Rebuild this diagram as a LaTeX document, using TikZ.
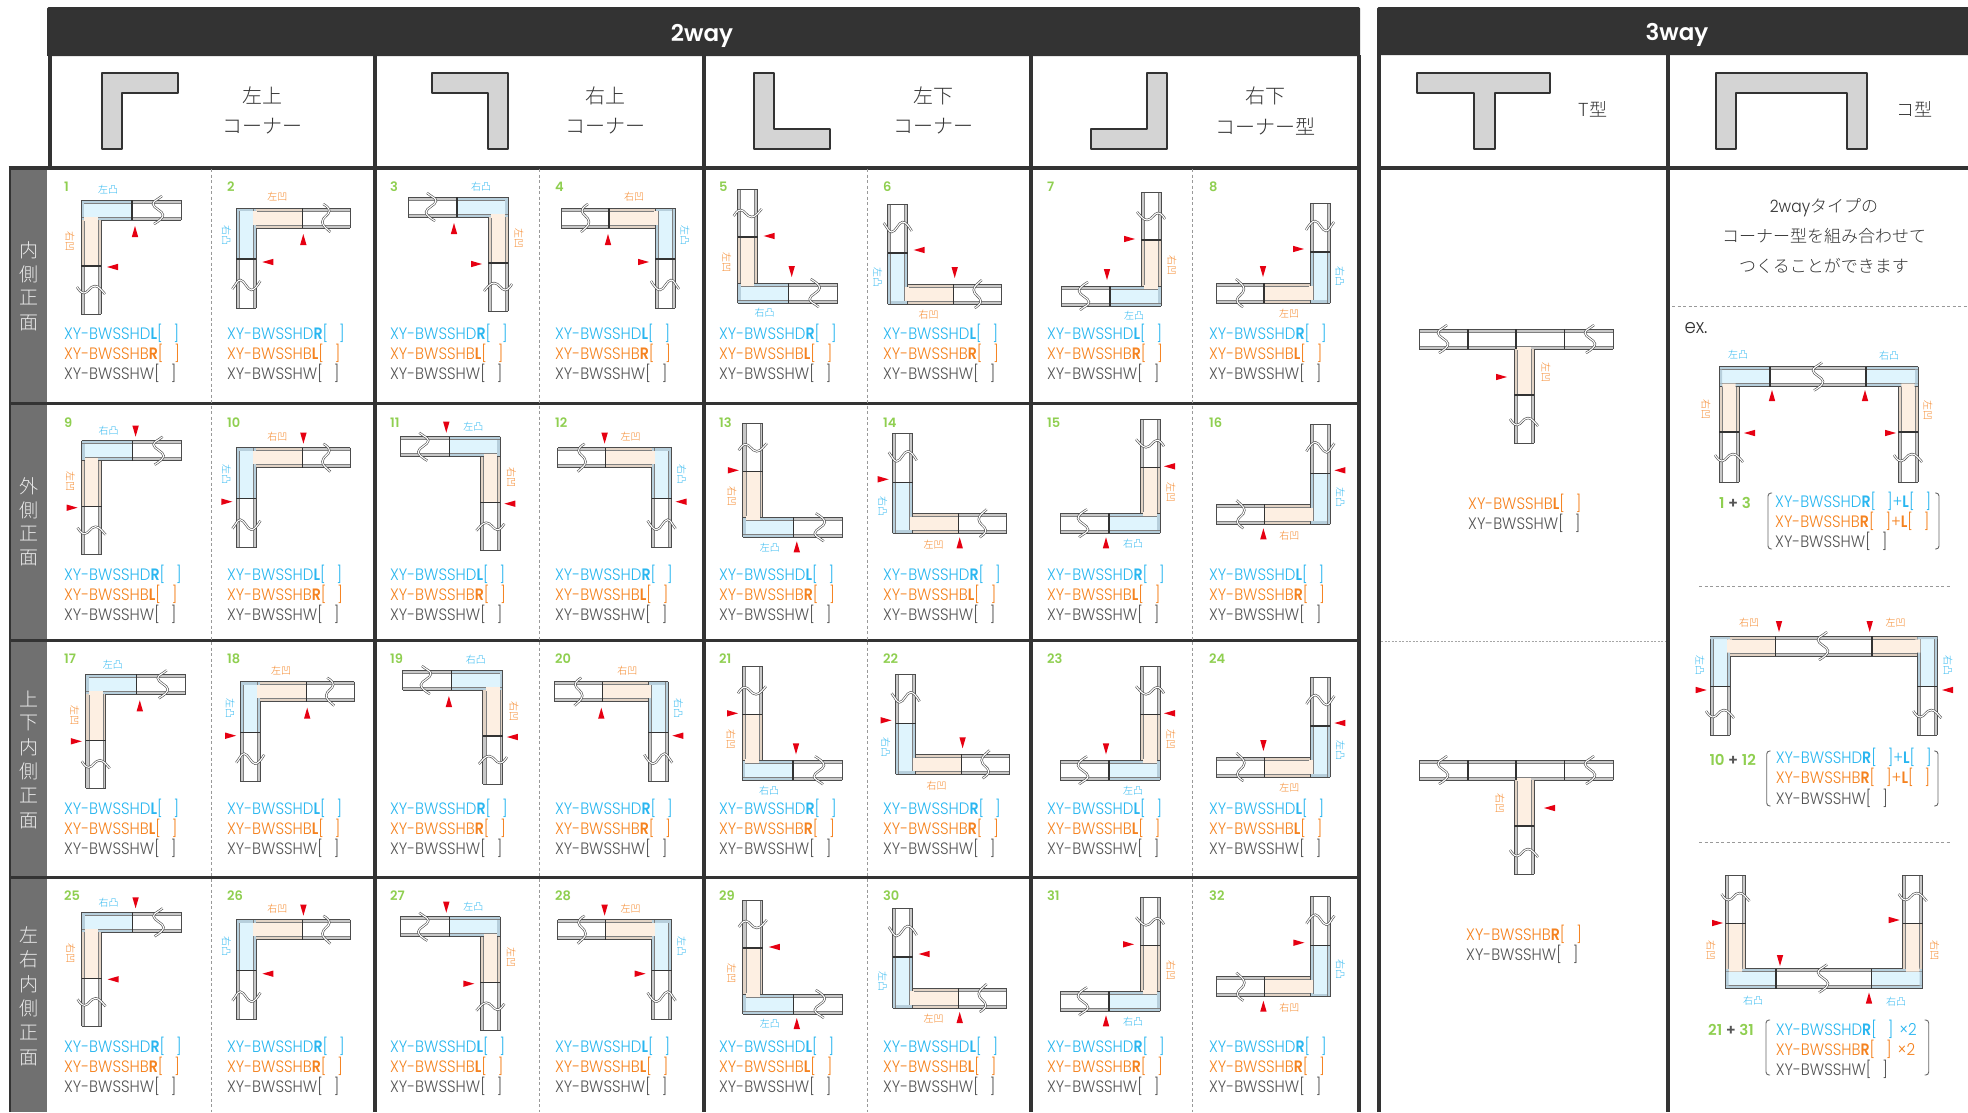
\documentclass[tikz,border=0pt]{standalone}
\usepackage{fontspec}
\newfontfamily\gothic{Poppins Light}[FakeStretch=0.91,BoldFont={Poppins SemiBold},BoldFeatures={FakeStretch=0.86}]
\newfontfamily\gothicR{Poppins}[BoldFont={Poppins SemiBold}]
\newfontfamily\cjk{Noto Sans CJK JP Light}
\definecolor{hdr}{HTML}{333333}
\definecolor{strip}{HTML}{707070}
\definecolor{blueT}{HTML}{29B6F0}
\definecolor{orangeT}{HTML}{F5821F}
\definecolor{grayT}{HTML}{555555}
\definecolor{greenT}{HTML}{8FCF50}
\definecolor{blueF}{HTML}{DFF4FD}
\definecolor{orangeF}{HTML}{FDEFE2}
\definecolor{bandG}{HTML}{C8C8C8}
\definecolor{bandB}{HTML}{B7CFDC}
\definecolor{bandO}{HTML}{E2D3C5}
\definecolor{redA}{HTML}{E60012}
\definecolor{shapeF}{HTML}{D4D4D4}
\tikzset{
  ln/.style={draw=black!70,line width=0.85pt},
  lni/.style={draw=black!50,line width=0.6pt},
  bd/.style={draw=black!80,line width=1.1pt},
  frame/.style={draw=hdr,line width=4pt},
  rowline/.style={draw=hdr,line width=2.6pt},
  dashv/.style={draw=black!40,line width=0.8pt,dash pattern=on 3pt off 2.5pt},
  shapeS/.style={draw=hdr,fill=shapeF,line width=2.6pt,line join=round},
  spec/.style={anchor=base west,inner sep=0pt,font=\gothic\fontsize{16.5}{18}\selectfont},
  num/.style={anchor=base west,inner sep=0pt,text=greenT,font=\gothicR\bfseries\fontsize{13}{14}\selectfont},
  lab/.style={inner sep=0pt,font=\cjk\fontsize{10}{10}\selectfont},
  head/.style={inner sep=0pt,text=hdr,font=\cjk\fontsize{20}{22}\selectfont},
  side/.style={inner sep=0pt,text=black!8,font=\cjk\fontsize{19}{20}\selectfont},
  title/.style={inner sep=0pt,text=white,font=\gothicR\bfseries\fontsize{23}{26}\selectfont},
  brk/.style={draw=black!60,line width=0.9pt,rounded corners=3pt},
  cnum/.style={num,anchor=center,font=\gothicR\bfseries\fontsize{15}{16}\selectfont},
  para/.style={inner sep=0pt,text=hdr,font=\cjk\fontsize{17}{20}\selectfont},
}
\newcommand\gap{\hspace{11pt}}
\newcommand\armX[5]{%
  \fill[#4] (#1,#3) rectangle (#2,#3+20);
  \fill[#5] (#1,#3+3) rectangle (#2,#3+17);
  \draw[lni] (#1,#3+3)--(#2,#3+3) (#1,#3+17)--(#2,#3+17);
  \draw[ln] (#1,#3)--(#2,#3) (#1,#3+20)--(#2,#3+20);
}
\newcommand\armY[5]{%
  \fill[#4] (#1,#2) rectangle (#1+20,#3);
  \fill[#5] (#1+3,#2) rectangle (#1+17,#3);
  \draw[lni] (#1+3,#2)--(#1+3,#3) (#1+17,#2)--(#1+17,#3);
  \draw[ln] (#1,#2)--(#1,#3) (#1+20,#2)--(#1+20,#3);
}
\newcommand\dblwave[1]{\draw[line width=2.3pt,color=black!70] #1; \draw[line width=1.1pt,white] #1;}
\newcommand\waveX[2]{\dblwave{(#1+4,#2-4) .. controls (#1-1,#2) and (#1-5,#2+1) .. (#1-5,#2+4) .. controls (#1-5,#2+8) and (#1+5,#2+11) .. (#1+5,#2+15) .. controls (#1+5,#2+18) and (#1+1,#2+21) .. (#1-4,#2+24)}}
\newcommand\waveY[2]{\dblwave{(#1-4,#2-3) .. controls (#1-2,#2) and (#1,#2+3) .. (#1+3,#2+3) .. controls (#1+7,#2+3) and (#1+9,#2-4) .. (#1+14,#2-4) .. controls (#1+18,#2-4) and (#1+21,#2+1) .. (#1+24,#2+4)}}
\newcommand\arrX[3]{\fill[redA] (#1,#2) -- (#1-3.2,#3) -- (#1+3.2,#3) -- cycle;}
\newcommand\arrY[3]{\fill[redA] (#2,#1) -- (#3,#1-3.2) -- (#3,#1+3.2) -- cycle;}
\def\cornerTL{\def\sx{1}\def\cy{-1}}
\def\cornerTR{\def\sx{-1}\def\cy{-1}}
\def\cornerBL{\def\sx{1}\def\cy{1}}
\def\cornerBR{\def\sx{-1}\def\cy{1}}
\newcommand\setrow[4]{\def\ny{#1}\def\ty{#2}%
  \ifnum#3=1 \def\Htip{26}\def\Hbase{37}\else\def\Htip{-4}\def\Hbase{-15}\fi
  \ifnum#4=1 \def\Vtip{26}\def\Vbase{37}\else\def\Vtip{-4}\def\Vbase{-15}\fi}
% n, textx, ox, oy, corner, Hlabel, Vlabel, D-letter, B-letter
\newcommand\cell[9]{%
  \csname corner#5\endcsname
  \ifodd#1
    \def\lT{#6}\def\lB{#7}\def\rT{0}\def\rB{-90}%
    \let\Ttip\Htip\let\Tbase\Hbase\let\Btip\Vtip\let\Bbase\Vbase
    \tikzset{lcx/.style={x={(\sx pt,0pt)},y={(0pt,\cy pt)}}}%
  \else
    \def\lT{#7}\def\lB{#6}\def\rT{-90}\def\rB{0}%
    \let\Ttip\Vtip\let\Tbase\Vbase\let\Btip\Htip\let\Bbase\Hbase
    \tikzset{lcx/.style={x={(0pt,\cy pt)},y={(\sx pt,0pt)}}}%
  \fi
  \begin{scope}[shift={(#3,#4)},lcx]
    \armX{0}{51}{0}{bandB}{blueF}
    \armX{51}{100}{0}{bandG}{white}
    \fill[bandB] (0,3) rectangle (3,17);
    \draw[ln] (0,0)--(0,20) (100,0)--(100,20);
    \draw[bd] (51,0)--(51,20);
    \armY{0}{20}{66}{bandO}{orangeF}
    \armY{0}{66}{114}{bandG}{white}
    \fill[orangeF] (3.3,17) rectangle (16.7,21);
    \draw[ln] (0,114)--(20,114);
    \draw[bd] (0,66)--(20,66);
    \waveX{77}{0}
    \waveY{0}{90}
    \arrX{54}{\Ttip}{\Tbase}
    \arrY{67}{\Btip}{\Bbase}
    \node[lab,text=blueT,rotate=\rT] (lt#1) at (27,-10) {\lT};
    \node[lab,text=orangeT,rotate=\rB] (lb#1) at (-11,41) {\lB};
  \end{scope}
  \node[num] (n#1) at (#2,\ny) {#1};
  \node[spec,text=blueT] (d#1) at (#2,\ty+6) {XY-BWSSHD\textbf{#8}[\gap]};
  \node[spec,text=orangeT] (b#1) at (#2,\ty+26) {XY-BWSSHB\textbf{#9}[\gap]};
  \node[spec,text=grayT] (w#1) at (#2,\ty+46) {XY-BWSSHW[\gap]};
}
\begin{document}
\begin{tikzpicture}[x=1pt,y=-1pt]
\useasboundingbox (0,0) rectangle (1968,1112);
\clip (0,0) rectangle (1968,1112);
\fill[white] (0,0) rectangle (1968,1112);
% headers
\fill[hdr,rounded corners=1.5pt] (47,7) rectangle (1360,56);
\fill[hdr] (47,30) rectangle (1360,56);
\fill[hdr,rounded corners=1.5pt] (1377,7) rectangle (1975,55);
\fill[hdr] (1377,30) rectangle (1975,55);
\node[title] (t2) at (702,36) {2way};
\node[title] (t3) at (1677,35) {3way};
% side strip
\fill[strip] (9,167) rectangle (47,1112);
\draw[rowline] (10,167)--(10,1112);
% grid
\draw[frame] (49.5,55)--(49.5,167) (375,55)--(375,1112) (703.5,55)--(703.5,1112) (1030.5,55)--(1030.5,1112) (1358.5,55)--(1358.5,1112);
\draw[frame] (8.5,167.5)--(1360,167.5);
\draw[rowline] (9,403.5)--(1360,403.5) (9,640.5)--(1360,640.5) (9,877.5)--(1360,877.5);
\draw[frame] (1379,55)--(1379,1112) (1668,55)--(1668,1112) (1377,167.5)--(1968,167.5);
\foreach \dx in {211,539,867,1192} \draw[dashv] (\dx,169)--(\dx,1112);
% side labels
\foreach \ch/\yy/\nm in {内/250/a1,側/274/a2,正/298/a3,面/323/a4,外/486/b1,側/510/b2,正/534/b3,面/558/b4,上/699/c1,下/723/c2,内/747/c3,側/771/c4,正/796/c5,面/821/c6,左/935/d1,右/959/d2,内/984/d3,側/1008/d4,正/1033/d5,面/1058/d6}
  \node[side] (s\nm) at (29,\yy) {\ch};
% header shapes
\draw[shapeS] (102,73)--(178,73)--(178,93)--(122,93)--(122,149)--(102,149)--cycle;
\draw[shapeS] (508,73)--(432,73)--(432,93)--(488,93)--(488,149)--(508,149)--cycle;
\draw[shapeS] (754,149)--(830,149)--(830,129)--(774,129)--(774,73)--(754,73)--cycle;
\draw[shapeS] (1167,149)--(1091,149)--(1091,129)--(1147,129)--(1147,73)--(1167,73)--cycle;
\draw[shapeS] (1417,73)--(1550,73)--(1550,93)--(1495,93)--(1495,149)--(1474,149)--(1474,93)--(1417,93)--cycle;
\draw[shapeS] (1716,149)--(1716,73)--(1867,73)--(1867,149)--(1847,149)--(1847,93)--(1736,93)--(1736,149)--cycle;
\node[head] (h1a) at (262,96) {左上};
\node[head] (h1b) at (262,126.5) {コーナー};
\node[head] (h2a) at (605,96) {右上};
\node[head] (h2b) at (605,126.5) {コーナー};
\node[head] (h3a) at (933,96) {左下};
\node[head] (h3b) at (933,126.5) {コーナー};
\node[head] (h4a) at (1265,96) {右下};
\node[head] (h4b) at (1265,126.5) {コーナー型};
\node[head,font=\cjk\fontsize{18}{20}\selectfont] (h5) at (1593,109) {T型};
\node[head,font=\cjk\fontsize{18}{20}\selectfont] (h6) at (1914,109) {コ型};
% row 1
\setrow{191}{333}{1}{1}
\cell{1}{64}{81}{200}{TL}{左凸}{右凹}{L}{R}
\cell{2}{227}{236.3}{208}{TL}{左凹}{右凸}{R}{L}
\cell{3}{390}{508}{197}{TR}{右凸}{左凹}{R}{L}
\cell{4}{555}{675}{208}{TR}{右凹}{左凸}{L}{R}
\cell{5}{719}{737.7}{303}{BL}{右凸}{左凹}{R}{L}
\cell{6}{883}{887.7}{304}{BL}{右凹}{左凸}{L}{R}
\cell{7}{1047}{1161}{306}{BR}{左凸}{右凹}{L}{R}
\cell{8}{1209}{1330}{303}{BR}{左凹}{右凸}{R}{L}
% row 2
\setrow{427}{574}{0}{0}
\cell{9}{64}{81.6}{440.7}{TL}{右凸}{左凹}{R}{L}
\cell{10}{227}{236.4}{447.7}{TL}{右凹}{左凸}{L}{R}
\cell{11}{390}{500.3}{436.7}{TR}{左凸}{右凹}{L}{R}
\cell{12}{555}{671.6}{447.7}{TR}{左凹}{右凸}{R}{L}
\cell{13}{719}{742.8}{537.3}{BL}{左凸}{右凹}{L}{R}
\cell{14}{883}{892.7}{533.3}{BL}{左凹}{右凸}{R}{L}
\cell{15}{1047}{1160}{533.3}{BR}{右凸}{左凹}{R}{L}
\cell{16}{1209}{1330.4}{524.3}{BR}{右凹}{左凸}{L}{R}
% row 3
\setrow{663}{808}{1}{0}
\cell{17}{64}{85.8}{674.3}{TL}{左凸}{左凹}{L}{L}
\cell{18}{227}{240.2}{681.7}{TL}{左凹}{左凸}{L}{L}
\cell{19}{390}{502.9}{670}{TR}{右凸}{右凹}{R}{R}
\cell{20}{555}{668.3}{681.7}{TR}{右凹}{右凸}{R}{R}
\cell{21}{719}{742}{780.3}{BL}{右凸}{右凹}{R}{R}
\cell{22}{883}{895.6}{774.3}{BL}{右凹}{右凸}{R}{R}
\cell{23}{1047}{1160}{780.3}{BR}{左凸}{左凹}{L}{L}
\cell{24}{1209}{1330.4}{777}{BR}{左凹}{左凸}{L}{L}
% row 4
\setrow{900}{1046}{0}{1}
\cell{25}{64}{81.6}{912.3}{TL}{右凸}{右凹}{R}{R}
\cell{26}{227}{236.4}{919.7}{TL}{右凹}{右凸}{R}{R}
\cell{27}{390}{500.3}{916.7}{TR}{左凸}{左凹}{L}{L}
\cell{28}{555}{671.6}{919.7}{TR}{左凹}{左凸}{L}{L}
\cell{29}{719}{742.8}{1014}{BL}{左凸}{左凹}{L}{L}
\cell{30}{883}{892.7}{1008}{BL}{左凹}{左凸}{L}{L}
\cell{31}{1047}{1160}{1011.3}{BR}{右凸}{右凹}{R}{R}
\cell{32}{1209}{1330.4}{996.7}{BR}{右凹}{右凸}{R}{R}
% 3way T diagrams
\foreach \dy/\tipx/\basex/\labx/\ltx/\nm in {329/1507/1496/1546/左凹/p,760/1544/1555/1500/右凹/q}{
  \armX{1419}{1613}{\dy}{bandG}{white}
  \draw[ln] (1419,\dy)--(1419,\dy+20) (1613,\dy)--(1613,\dy+20);
  \draw[bd] (1468,\dy)--(1468,\dy+20) (1516,\dy)--(1516,\dy+20) (1564.6,\dy)--(1564.6,\dy+20);
  \armY{1514}{\dy+20}{\dy+66}{bandO}{orangeF}
  \armY{1514}{\dy+66}{\dy+114}{bandG}{white}
  \fill[orangeF] (1517.3,\dy+18) rectangle (1530.7,\dy+21);
  \draw[ln] (1514,\dy+114)--(1534,\dy+114);
  \draw[bd] (1514,\dy+66)--(1534,\dy+66);
  \waveX{1443}{\dy}
  \waveX{1590}{\dy}
  \waveY{1514}{\dy+93}
  \arrY{\dy+48}{\tipx}{\basex}
  \node[lab,text=orangeT,rotate=-90] (tl\nm) at (\labx,\dy+43) {\ltx};
}
\node[spec,text=orangeT] (tb1) at (1468,509) {XY-BWSSHB\textbf{L}[\gap]};
\node[spec,text=grayT] (tw1) at (1468,529) {XY-BWSSHW[\gap]};
\draw[draw=black!35,line width=0.8pt,dash pattern=on 2pt off 1.5pt] (1381,641)--(1666,641);
\node[spec,text=orangeT] (tb2) at (1466,940) {XY-BWSSHB\textbf{R}[\gap]};
\node[spec,text=grayT] (tw2) at (1466,960) {XY-BWSSHW[\gap]};
% 3way column 2 text
\node[para,font=\gothic\fontsize{17}{20}\selectfont] (x1) at (1824,208) {2way{\cjk\fontsize{17}{20}\selectfont タイプの}};
\node[para] (x2) at (1824,236) {コーナー型を組み合わせて};
\node[para] (x3) at (1824,266) {つくることができます};
\draw[dashv] (1672,306)--(1968,306);
\node[para,font=\gothic\fontsize{20}{22}\selectfont] (x4) at (1696,328) {ex.};
% composite 1
\armX{1719}{1770}{366.5}{bandB}{blueF}
\armX{1770}{1866}{366.5}{bandG}{white}
\armX{1866}{1918}{366.5}{bandB}{blueF}
\fill[bandB] (1719,369.5) rectangle (1722,383.5) (1915,369.5) rectangle (1918,383.5);
\draw[ln] (1719,366.5)--(1719,386.5) (1918,366.5)--(1918,386.5);
\draw[bd] (1770,366.5)--(1770,386.5) (1866,366.5)--(1866,386.5);
\armY{1719}{386.5}{432}{bandO}{orangeF}
\armY{1719}{432}{482}{bandG}{white}
\armY{1898}{386.5}{432}{bandO}{orangeF}
\armY{1898}{432}{482}{bandG}{white}
\fill[orangeF] (1722.3,383.5) rectangle (1735.7,387) (1901.3,383.5) rectangle (1914.7,387);
\draw[ln] (1719,482)--(1739,482) (1898,482)--(1918,482);
\draw[bd] (1719,432)--(1739,432) (1898,432)--(1918,432);
\waveX{1818}{366.5}
\waveY{1719}{458}
\waveY{1898}{458}
\arrX{1772}{390}{401}
\arrX{1865}{390}{401}
\arrY{433}{1744}{1755}
\arrY{433}{1896}{1885}
\node[lab,text=blueT] (k1) at (1738,355) {左凸};
\node[lab,text=blueT] (k2) at (1889,356) {右凸};
\node[lab,text=orangeT,rotate=-90] (k3) at (1706,409) {右凹};
\node[lab,text=orangeT,rotate=-90] (k4) at (1928,410) {左凹};
\node[cnum] (e1) at (1735,503) {1 {\color{grayT}+} 3};
\draw[brk] (1772,493)--(1768,493)--(1768,549)--(1772,549);
\draw[brk] (1935,493)--(1939,493)--(1939,549)--(1935,549);
\node[spec,text=blueT] (e1a) at (1775,507) {XY-BWSSHD\textbf{R}[\gap]+\textbf{L}[\gap]};
\node[spec,text=orangeT] (e1b) at (1775,527) {XY-BWSSHB\textbf{R}[\gap]+\textbf{L}[\gap]};
\node[spec,text=grayT] (e1c) at (1775,547) {XY-BWSSHW[\gap]};
\draw[dashv] (1699,586)--(1950,586);
% composite 2
\armY{1710}{636}{686.5}{bandB}{blueF}
\armY{1710}{686.5}{735}{bandG}{white}
\armY{1917.3}{636}{686.5}{bandB}{blueF}
\armY{1917.3}{686.5}{735}{bandG}{white}
\fill[bandB] (1710,636) rectangle (1730,639) (1917.3,636) rectangle (1937.3,639);
\draw[ln] (1710,636)--(1730,636) (1917.3,636)--(1937.3,636) (1710,735)--(1730,735) (1917.3,735)--(1937.3,735);
\draw[bd] (1710,686.5)--(1730,686.5) (1917.3,686.5)--(1937.3,686.5);
\armX{1730}{1775.7}{636}{bandO}{orangeF}
\armX{1775.7}{1872}{636}{bandG}{white}
\armX{1872}{1917.3}{636}{bandO}{orangeF}
\fill[orangeF] (1727,639.3) rectangle (1732,652.7) (1915.3,639.3) rectangle (1920.3,652.7);
\draw[bd] (1775.7,636)--(1775.7,656) (1872,636)--(1872,656);
\waveX{1823}{636}
\waveY{1710}{714}
\waveY{1917.3}{714}
\arrX{1779}{632}{621}
\arrX{1869.7}{632}{621}
\arrY{690}{1706.7}{1695.7}
\arrY{690}{1942}{1953}
\node[lab,text=orangeT] (k5) at (1749,623) {右凹};
\node[lab,text=orangeT] (k6) at (1895.7,623) {左凹};
\node[lab,text=blueT,rotate=-90] (k7) at (1700,665) {左凸};
\node[lab,text=blueT,rotate=-90] (k8) at (1948,665) {右凸};
\node[cnum] (e2) at (1732.7,760) {10 {\color{grayT}+} 12};
\draw[brk] (1770.7,751)--(1766.7,751)--(1766.7,806)--(1770.7,806);
\draw[brk] (1934,751)--(1938,751)--(1938,806)--(1934,806);
\node[spec,text=blueT] (e2a) at (1775.7,763.5) {XY-BWSSHD\textbf{R}[\gap]+\textbf{L}[\gap]};
\node[spec,text=orangeT] (e2b) at (1775.7,783) {XY-BWSSHB\textbf{R}[\gap]+\textbf{L}[\gap]};
\node[spec,text=grayT] (e2c) at (1775.7,804) {XY-BWSSHW[\gap]};
\draw[dashv] (1699,842)--(1950,842);
% composite 3
\armX{1725.5}{1776}{968.5}{bandB}{blueF}
\armX{1776}{1871.7}{968.5}{bandG}{white}
\armX{1871.7}{1922.7}{968.5}{bandB}{blueF}
\fill[bandB] (1725.5,971.5) rectangle (1728.5,985.5) (1919.7,971.5) rectangle (1922.7,985.5);
\draw[ln] (1725.5,968.5)--(1725.5,988.5) (1922.7,968.5)--(1922.7,988.5);
\draw[bd] (1776,968.5)--(1776,988.5) (1871.7,968.5)--(1871.7,988.5);
\armY{1725.5}{923.3}{968.5}{bandO}{orangeF}
\armY{1725.5}{875}{923.3}{bandG}{white}
\armY{1902.7}{923.3}{968.5}{bandO}{orangeF}
\armY{1902.7}{875}{923.3}{bandG}{white}
\fill[orangeF] (1728.8,967.5) rectangle (1742.2,971.5) (1906,967.5) rectangle (1919.4,971.5);
\draw[ln] (1725.5,875)--(1745.5,875) (1902.7,875)--(1922.7,875);
\draw[bd] (1725.5,923.3)--(1745.5,923.3) (1902.7,923.3)--(1922.7,923.3);
\waveX{1823}{968.5}
\waveY{1725.5}{897}
\waveY{1902.7}{897}
\arrX{1780}{966}{955}
\arrX{1869}{992.5}{1003.5}
\arrY{923}{1723}{1712}
\arrY{920}{1899.7}{1888.7}
\node[lab,text=orangeT,rotate=-90] (k9) at (1711,950) {右凹};
\node[lab,text=orangeT,rotate=-90] (k10) at (1934.7,950) {右凹};
\node[lab,text=blueT] (k11) at (1753,1001) {右凸};
\node[lab,text=blueT] (k12) at (1896,1002) {右凸};
\node[cnum] (e3) at (1731,1030) {21 {\color{grayT}+} 31};
\draw[brk] (1770,1020)--(1766,1020)--(1766,1075)--(1770,1075);
\draw[brk] (1924.7,1020)--(1928.7,1020)--(1928.7,1075)--(1924.7,1075);
\node[spec,text=blueT] (e3a) at (1775.7,1035) {XY-BWSSHD\textbf{R}[\gap]\hspace{6pt}×2};
\node[spec,text=orangeT] (e3b) at (1775.7,1055) {XY-BWSSHB\textbf{R}[\gap]\hspace{6pt}×2};
\node[spec,text=grayT] (e3c) at (1775.7,1075) {XY-BWSSHW[\gap]};
\end{tikzpicture}
\end{document}
